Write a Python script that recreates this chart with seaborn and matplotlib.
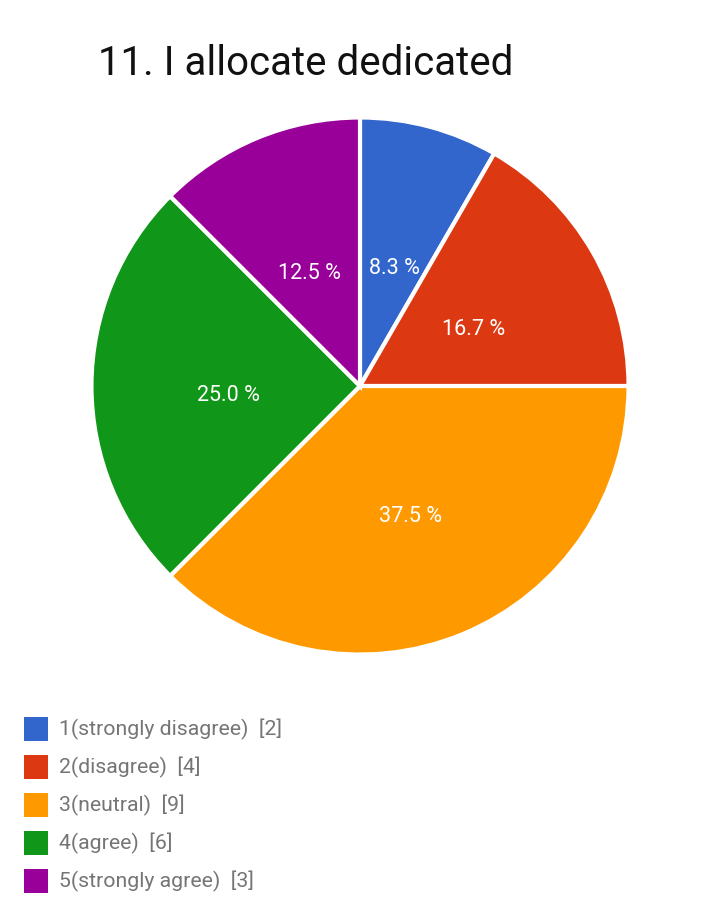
import matplotlib
matplotlib.use("Agg")
import matplotlib.pyplot as plt
import seaborn as sns
from matplotlib.patches import Rectangle

# dati del grafico
categorie = ["1(strongly disagree)", "2(disagree)", "3(neutral)", "4(agree)", "5(strongly agree)"]
conteggi = [2, 4, 9, 6, 3]
colori = ["#3366CC", "#DC3912", "#FF9900", "#109618", "#990099"]
titolo = "11. I allocate dedicated"

sns.set_theme(style="white")
plt.rcParams["font.family"] = ["Roboto", "DejaVu Sans"]
palette = sns.color_palette(colori)

fig = plt.figure(figsize=(7.2, 9.1), dpi=100)
fig.patch.set_facecolor("white")

# area della torta
ax = fig.add_axes([0.1278, 0.2813, 0.7444, 0.589])
wedges, testi, autotesti = ax.pie(
    conteggi,
    colors=palette,
    startangle=90,
    counterclock=False,
    autopct="%.1f %%",
    pctdistance=0.49,
    wedgeprops=dict(edgecolor="white", linewidth=3),
    textprops=dict(color="white", fontsize=15.5),
)
# etichette un po' piu' in basso, come nell'originale
for t in autotesti:
    x, y = t.get_position()
    t.set_position((x, y - 0.034))
ax.set_xlim(-0.998, 0.998)
ax.set_ylim(-0.998, 0.998)
ax.set_aspect("equal")
ax.axis("off")

# titolo
fig.text(98 / 720, 1 - 75 / 910, titolo, fontsize=29, color="#111111",
         ha="left", va="baseline")

# legenda manuale
y0 = 729
passo = 38
for i, (cat, n, c) in enumerate(zip(categorie, conteggi, palette)):
    yc = y0 + i * passo
    fig.patches.append(Rectangle((24 / 720, 1 - (yc + 12) / 910), 24 / 720, 24 / 910,
                                 transform=fig.transFigure, facecolor=c,
                                 edgecolor="none"))
    fig.text(59 / 720, 1 - yc / 910, f"{cat}  [{n}]", fontsize=15.3,
             color="#757575", ha="left", va="center")

fig.savefig("out.png", dpi=100, facecolor="white")
